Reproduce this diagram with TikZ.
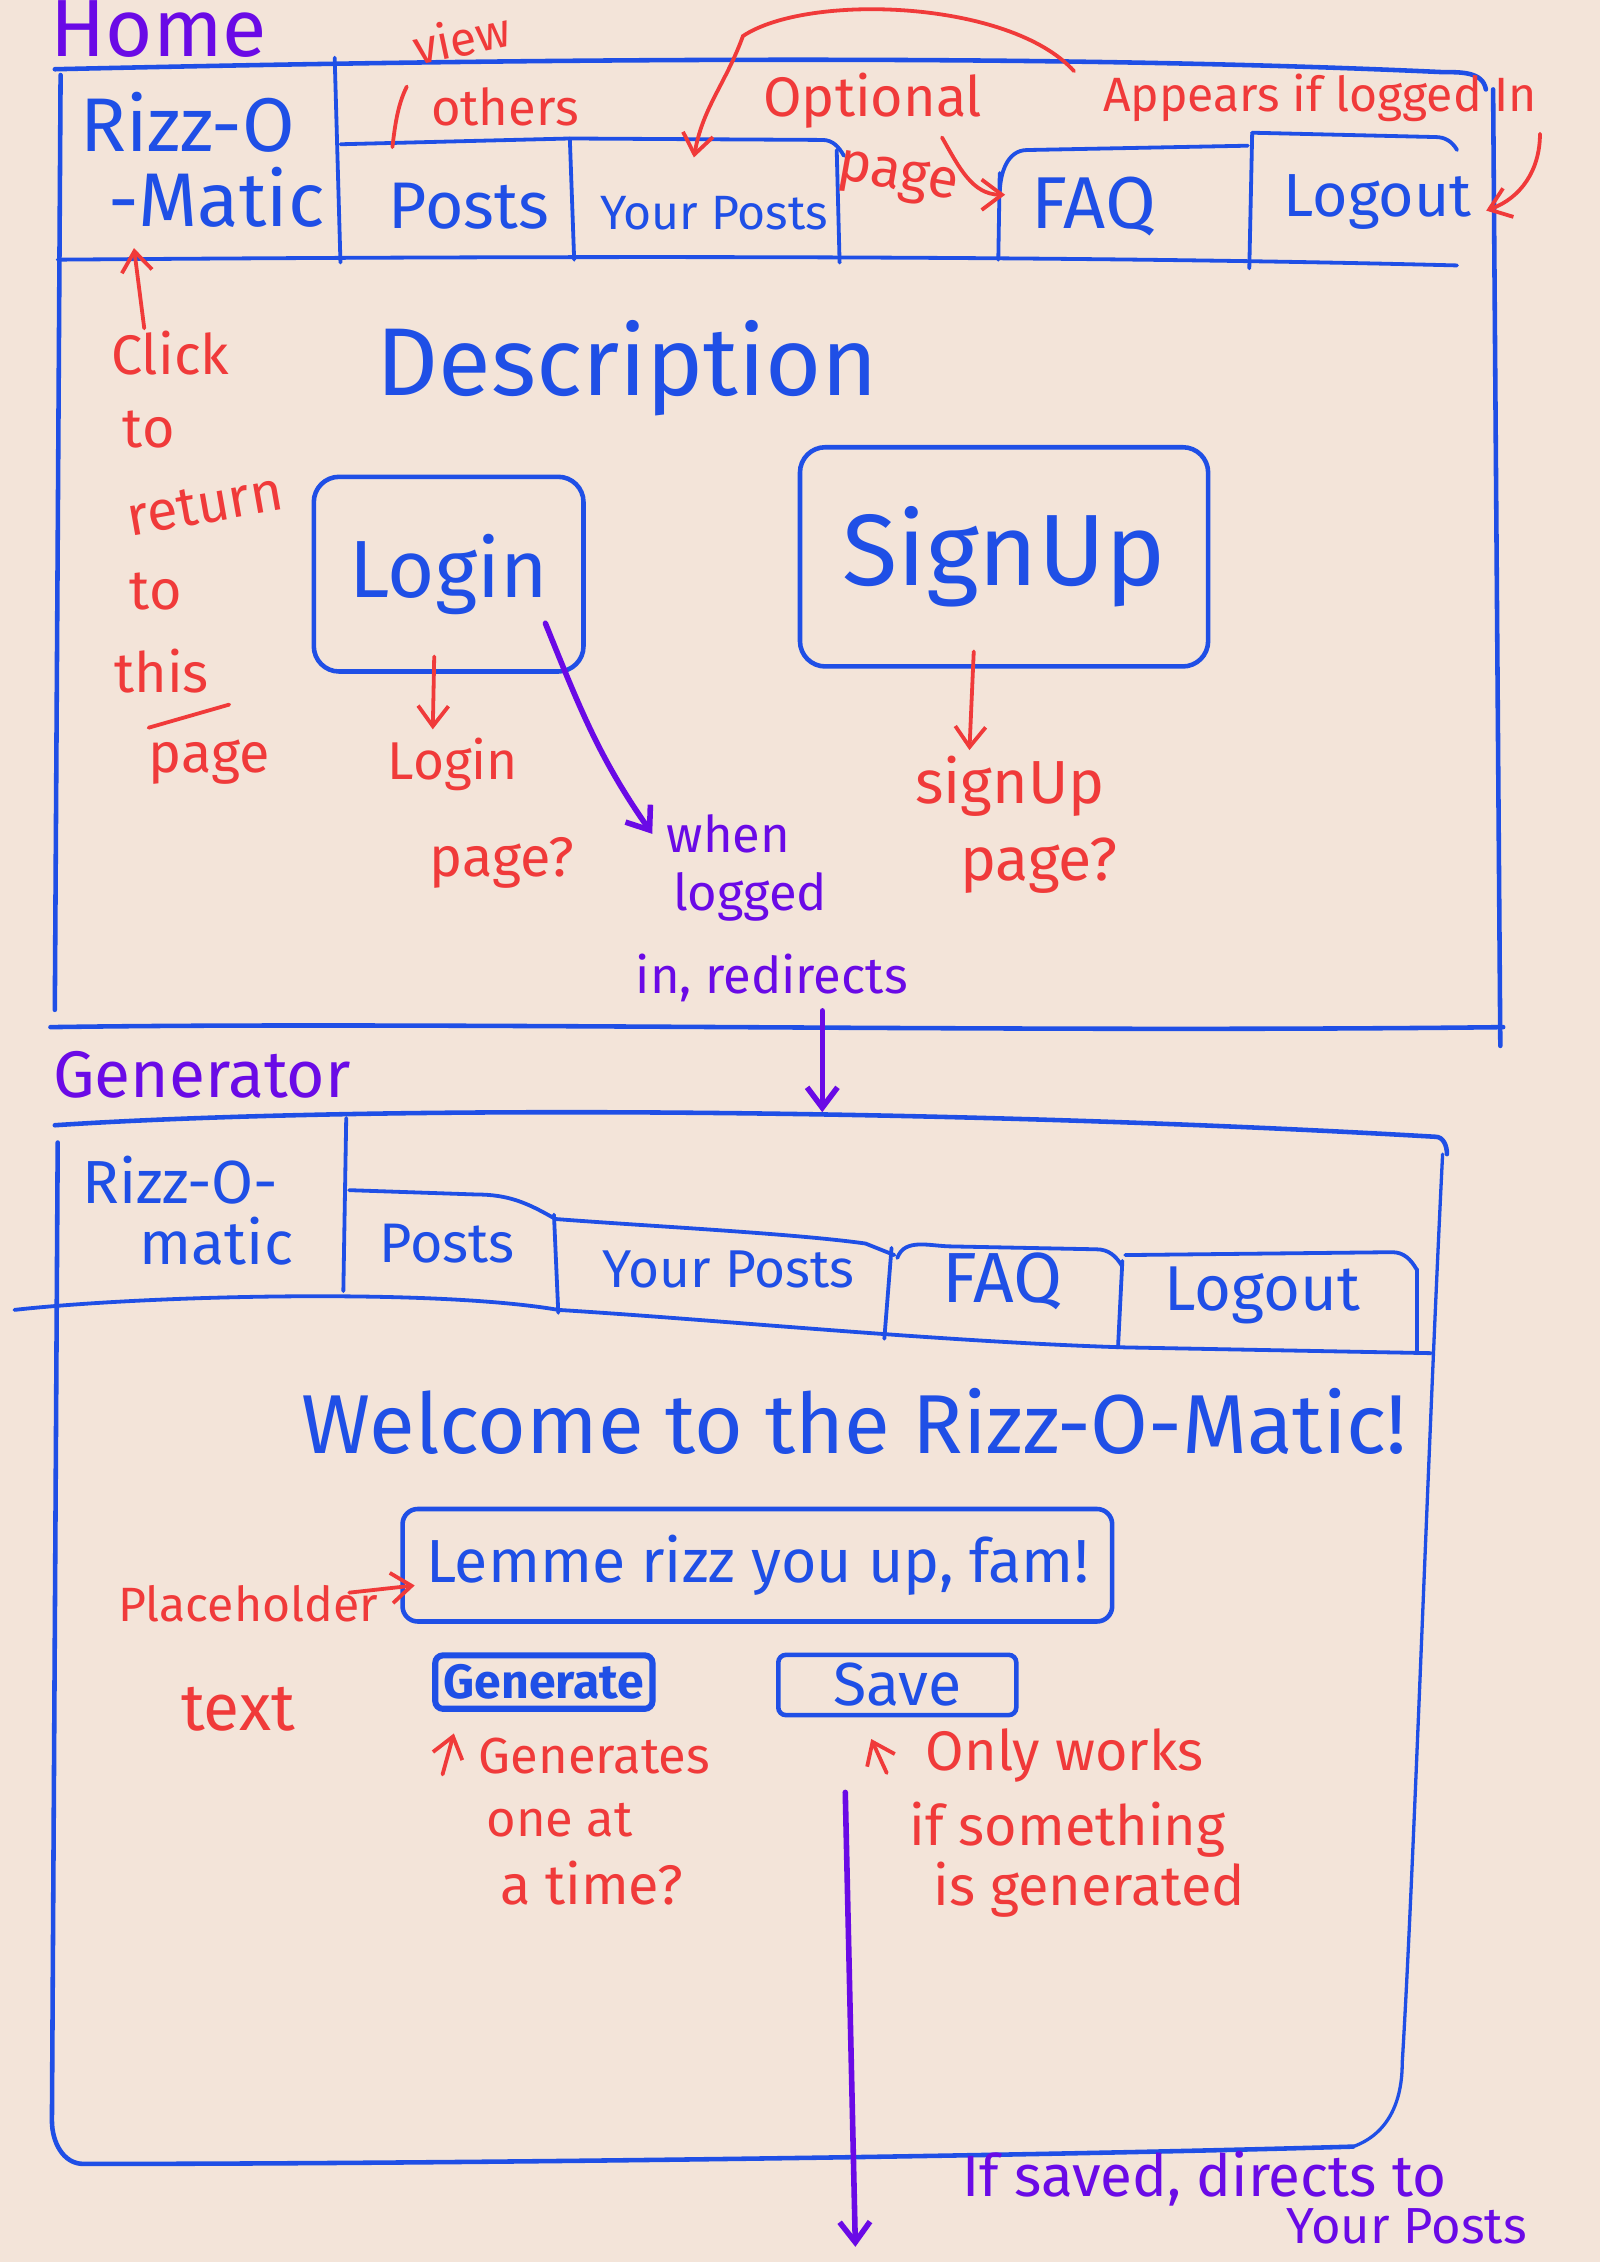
\documentclass[tikz,border=0pt]{standalone}
\usepackage{fontspec}
\setmainfont{Fira Sans}
\usetikzlibrary{arrows.meta,positioning,calc}
\definecolor{paper}{HTML}{F3E4D9}
\definecolor{inkblue}{HTML}{1F4FE6}
\definecolor{inkred}{HTML}{F03A3A}
\definecolor{inkpurple}{HTML}{6A0AE6}
\newcommand\txtsize[1]{\fontsize{#1}{#1}\selectfont}

\begin{document}
\begin{tikzpicture}[
  x = 0.02cm, y = -0.02cm,
  > = {Straight Barb[length=8pt,width=12pt]},
  frame/.style = {draw=inkblue, line width=1.8pt, line cap=round, line join=round},
  tab/.style = {draw=inkblue, line width=1.5pt, line cap=round, line join=round},
  ui/.style = {text=inkblue, inner sep=1pt, font=\txtsize{#1}},
  ui/.default = 26,
  btn/.style = {draw=inkblue, line width=1.8pt, rounded corners=10pt, text=inkblue, font=\txtsize{#1}},
  btn/.default = 30,
  title/.style = {text=inkpurple, inner sep=1pt, font=\txtsize{#1}},
  annot/.style = {text=inkred, inner sep=1pt, font=\txtsize{#1}},
  annot/.default = 20,
  annotarrow/.style = {draw=inkred, line width=1.5pt, line cap=round, ->},
  flowarrow/.style = {draw=inkpurple, line width=2.2pt, line cap=round, ->}
  ]
  \fill[paper] (0,0) rectangle (1109,1568);
  \useasboundingbox (0,0) rectangle (1109,1568);

  % Home page
  \node[title=32] (home) at (110,20) {Home};
  \draw[frame] (38,48) .. controls (300,42) and (700,36) .. (1000,50) to[out=0,in=100] (1030,62);
  \draw[frame] (42,52) -- (38,700);
  \draw[frame] (1035,62) -- (1040,725);
  \draw[frame] (35,712) .. controls (300,708) and (700,716) .. (1042,712);

  % navigation bar
  \draw[tab] (40,180) .. controls (300,178) and (700,176) .. (1010,184);
  \draw[tab] (232,40) -- (236,182);
  \draw[tab] (236,100) -- (395,96) -- (570,97) to[out=0,in=120] (585,108);
  \draw[tab] (693,135) to[out=90,in=180] (712,104) -- (865,101);
  \draw[tab] (868,92) -- (995,95) to[out=0,in=120] (1010,104);
  \draw[tab] (395,96) -- (398,180);
  \draw[tab] (580,104) -- (582,182);
  \draw[tab] (693,120) -- (692,180);
  \draw[tab] (868,92) -- (866,186);

  \node[ui=30] (hrizz) at (130,85) {Rizz-O};
  \node[ui=30] (hmatic) at (150,137) {-Matic};
  \node[ui=26] (hposts) at (325,143) {Posts};
  \node[ui=19] (hyour) at (495,148) {Your Posts};
  \node[ui=29] (hfaq) at (758,143) {FAQ};
  \node[ui=24] (hlogout) at (955,140) {Logout};

  \node[ui=38] (desc) at (435,255) {Description};
  \node[btn=32, minimum width=3.74cm, minimum height=2.7cm] (login) at (311,398) {Login};
  \node[btn=40, minimum width=5.66cm, minimum height=3.04cm] (signup) at (696,386) {SignUp};

  % notes on the nav bar
  \node[annot=19, rotate=12] (view) at (320,26) {view};
  \node[annot] (others) at (350,74) {others};
  \draw[inkred, line width=1.5pt, line cap=round] (272,102) .. controls (274,85) and (276,72) .. (282,60);
  \node[annot=22] (optional) at (605,70) {Optional};
  \node[annot=22, rotate=-10] (optpage) at (622,124) {page};
  \draw[annotarrow] ($(optional.south east)+(-30,4)$) to[out=-60,in=180] ($(hfaq.west)+(-16,-8)$);
  \node[annot=19] (appears) at (915,68) {Appears if logged In};
  \draw[annotarrow] ($(appears.north west)+(-18,0)$) .. controls (700,0) and (560,-5) .. (515,25)
    to[out=-110,in=80] ($(hyour.north)+(-14,-25)$);
  \draw[annotarrow] ($(appears.south east)+(0,6)$) to[out=-90,in=20] ($(hlogout.east)+(8,6)$);

  % click to return
  \node[annot=22] (click) at (118,245) {Click};
  \node[annot=22] (cto) at (103,298) {to};
  \node[annot=22, rotate=10] (creturn) at (142,350) {return};
  \node[annot=22] (cto2) at (108,410) {to};
  \node[annot=22] (cthis) at (112,465) {this};
  \node[annot=22] (cpage) at (145,528) {page};
  \draw[annotarrow] ($(click.north)+(-18,0)$) -- ($(hmatic.south west)+(20,12)$);
  \draw[inkred, line width=1.5pt, line cap=round] ($(cpage.north west)+(2,-6)$) -- ($(cthis.south east)+(12,6)$);

  % login and sign up notes
  \node[annot=21] (lpg1) at (314,530) {Login};
  \node[annot=22] (lpg2) at (348,598) {page?};
  \draw[annotarrow] ($(login.south)+(-10,-12)$) -- ($(lpg1.north)+(-14,-4)$);
  \node[annot=24] (spg1) at (700,545) {signUp};
  \node[annot=24] (spg2) at (720,600) {page?};
  \draw[annotarrow] ($(signup.south)+(-21,-12)$) -- ($(spg1.north)+(-28,-2)$);

  \node[title=20] (when) at (505,578) {when};
  \node[title=20] (logged) at (520,622) {logged};
  \node[title=20] (redir) at (535,678) {in, redirects};
  \draw[flowarrow] ($(login.south east)+(-28,-35)$) to[out=-68,in=125] ($(when.west)+(-8,0)$);

  % Generator page
  \node[title=26] (gen) at (140,745) {Generator};
  \coordinate (gtop) at (570,771);
  \draw[flowarrow] ($(redir.south)+(35,4)$) -- (gtop);
  \draw[frame] (38,780) .. controls (250,766) and (650,768) .. (995,788) to[out=0,in=90] (1003,800);
  \draw[frame, line width=1.3pt] (1000,800) .. controls (990,1000) and (980,1300) .. (972,1430) to[out=-90,in=20] (938,1488);
  \draw[frame] (40,792) -- (36,1470) to[out=-90,in=180] (58,1500) .. controls (300,1500) and (700,1495) .. (938,1488);

  % navigation bar
  \draw[tab] (240,775) -- (238,895);
  \draw[tab] (10,908) .. controls (100,898) and (300,893) .. (387,908) .. controls (500,915) and (650,930) .. (780,934) -- (992,938);
  \draw[tab] (242,825) -- (330,828) to[out=0,in=150] (385,845) .. controls (450,850) and (550,855) .. (600,862) -- (620,870);
  \draw[tab] (622,872) to[out=70,in=180] (660,864) -- (760,866) to[out=0,in=120] (778,878);
  \draw[tab] (780,870) -- (965,868) to[out=0,in=120] (982,880);
  \draw[tab] (384,842) -- (387,910);
  \draw[tab] (618,865) -- (613,928);
  \draw[tab] (778,874) -- (775,934);
  \draw[tab] (982,880) -- (982,938);

  \node[ui=24] (grizz) at (125,818) {Rizz-O-};
  \node[ui=24] (gmatic) at (150,860) {matic};
  \node[ui=22] (gposts) at (310,862) {Posts};
  \node[ui=21] (gyour) at (505,880) {Your Posts};
  \node[ui=28] (gfaq) at (695,888) {FAQ};
  \node[ui=25] (glogout) at (875,898) {Logout};

  \node[ui=33] (welcome) at (592,985) {Welcome to the Rizz-O-Matic!};
  \node[btn=24, rounded corners=6pt, minimum width=9.84cm, minimum height=1.56cm] (gentext) at (525,1085) {Lemme rizz you up, fam!};
  \node[btn=19, line width=2.4pt, rounded corners=3pt, minimum width=2.94cm, minimum height=0.74cm, font=\bfseries\txtsize{19}] (genbtn) at (377,1166) {Generate};
  \node[btn=24, rounded corners=3pt, minimum width=3.3cm, minimum height=0.8cm] (savebtn) at (622,1168) {Save};

  % notes on the generator
  \node[annot=19] (ph1) at (172,1112) {Placeholder};
  \node[annot=26] (ph2) at (165,1185) {text};
  \draw[annotarrow] ($(ph1.east)+(-22,-8)$) -- ($(gentext.west)+(10,14)$);

  \node[annot=20] (gn1) at (412,1217) {Generates};
  \node[annot=20] (gn2) at (388,1262) {one at};
  \node[annot=22] (gn3) at (410,1305) {a time?};
  \draw[annotarrow] ($(gn1.west)+(-23,13)$) -- ($(genbtn.south west)+(15,15)$);

  \node[annot=22] (ow1) at (738,1217) {Only works};
  \node[annot=22] (ow2) at (740,1268) {if something};
  \node[annot=22] (ow3) at (755,1310) {is generated};
  \draw[annotarrow] ($(ow1.west)+(-25,12)$) -- ($(savebtn.south west)+(66,15)$);

  \node[title=23] (saved1) at (835,1510) {If saved, directs to};
  \node[title=20] (saved2) at (975,1543) {Your Posts};
  \draw[flowarrow] ($(savebtn.south west)+(48,52)$) -- ($(savebtn.south west)+(55,367)$);
\end{tikzpicture}
\end{document}
